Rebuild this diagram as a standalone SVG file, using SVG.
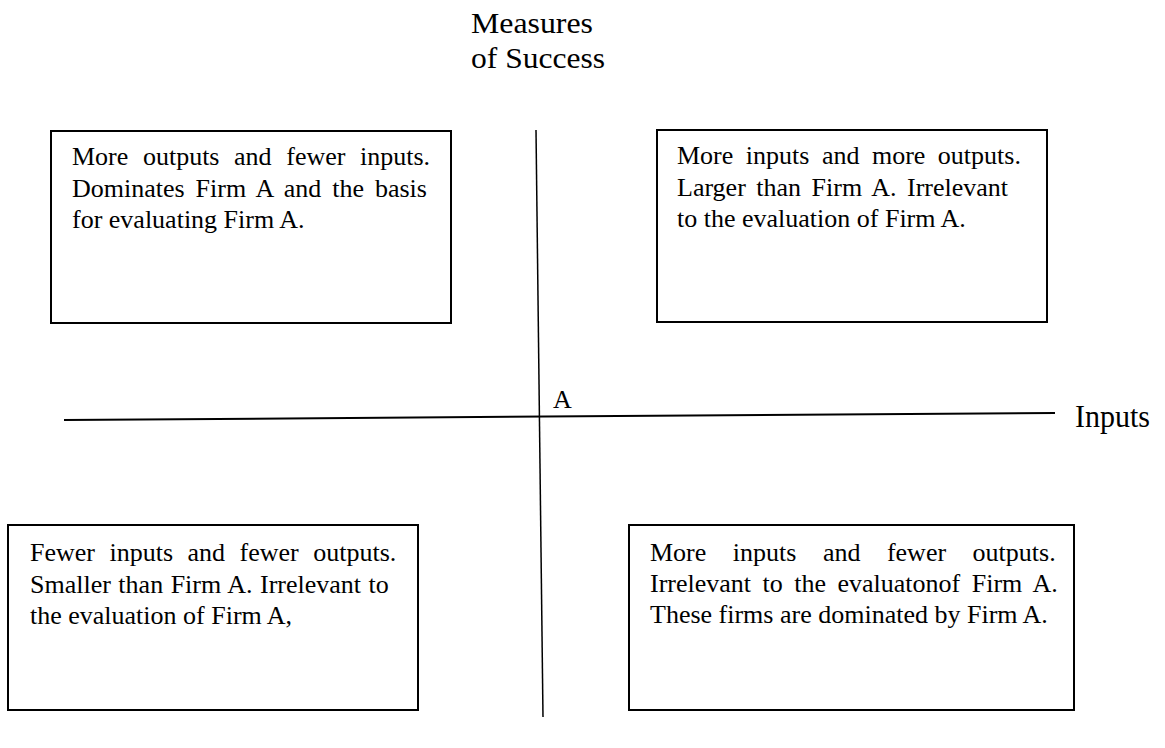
<svg xmlns="http://www.w3.org/2000/svg" width="1165" height="748" viewBox="0 0 1165 748">
<style>
text{font-family:"Liberation Serif","Times New Roman",serif;fill:#000;}
.t{font-size:26px;}
.box{fill:#fff;stroke:#000;stroke-width:2;}
.ax{stroke:#000;stroke-width:2;fill:none;}
</style>
<rect width="1165" height="748" fill="#fff"/>
<g id="connectors">
<line class="ax" x1="64" y1="420" x2="1055" y2="413"/>
<line class="ax" x1="536" y1="130" x2="543" y2="717" style="stroke-width:1.5"/>
</g>
<g id="label-measures"><text x="471" y="33" font-size="30" textLength="122" lengthAdjust="spacingAndGlyphs">Measures</text><text x="471" y="68" font-size="30" textLength="134" lengthAdjust="spacingAndGlyphs">of Success</text></g>
<g id="label-A"><text x="553" y="408" font-size="26">A</text></g>
<g id="label-inputs"><text x="1075" y="427" font-size="32" textLength="75" lengthAdjust="spacingAndGlyphs">Inputs</text></g>
<g id="box-ul">
<rect class="box" x="51" y="131" width="400" height="192"/>
<text class="t" x="72" y="165" word-spacing="8.1">More outputs and fewer inputs.</text>
<text class="t" x="72" y="197" word-spacing="4.4">Dominates Firm A and the basis</text>
<text class="t" x="72" y="228">for evaluating Firm A.</text>
</g>
<g id="box-ur">
<rect class="box" x="657" y="130" width="390" height="192"/>
<text class="t" x="677" y="164" word-spacing="6">More inputs and more outputs.</text>
<text class="t" x="677" y="196" word-spacing="4">Larger than Firm A.  Irrelevant</text>
<text class="t" x="677" y="227">to the evaluation of Firm A.</text>
</g>
<g id="box-ll">
<rect class="box" x="8" y="525" width="410" height="185"/>
<text class="t" x="30" y="561" word-spacing="8">Fewer inputs and fewer outputs.</text>
<text class="t" x="30" y="593" word-spacing="1">Smaller than Firm A.  Irrelevant to</text>
<text class="t" x="30" y="624">the evaluation of Firm A,</text>
</g>
<g id="box-lr">
<rect class="box" x="629" y="525" width="445" height="185"/>
<text class="t" x="650" y="561" word-spacing="20">More inputs and fewer outputs.</text>
<text class="t" x="650" y="592" word-spacing="5">Irrelevant to the evaluatonof Firm A.</text>
<text class="t" x="650" y="623">These firms are dominated by Firm A.</text>
</g>
</svg>
